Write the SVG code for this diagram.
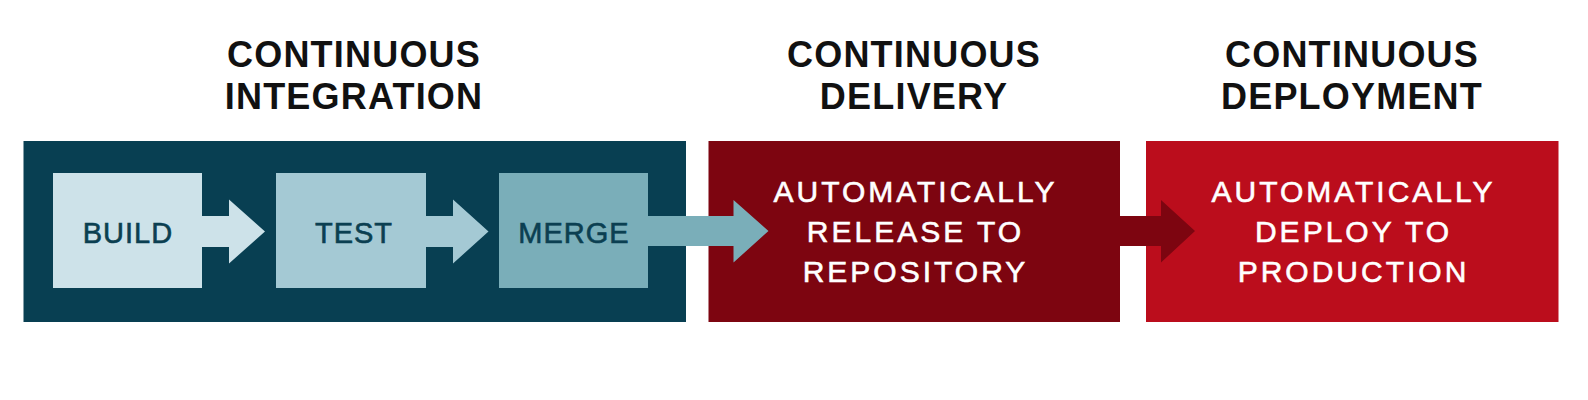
<svg xmlns="http://www.w3.org/2000/svg" width="1588" height="400" viewBox="0 0 1588 400">
<style>
.head{font-family:"Liberation Sans",Arial,sans-serif;font-weight:bold;font-size:36px;letter-spacing:1.2px;fill:#111;text-anchor:middle}
.inner{font-family:"Liberation Sans",Arial,sans-serif;font-size:29px;letter-spacing:1px;fill:#0b3f51;stroke:#0b3f51;stroke-width:0.6px;text-anchor:middle}
.wt{font-family:"Liberation Sans",Arial,sans-serif;font-size:30px;letter-spacing:3px;fill:#fff;stroke:#fff;stroke-width:0.6px;text-anchor:middle}
</style>
<rect width="1588" height="400" fill="#fff"/>
<g id="ci">
<rect x="23.5" y="141" width="662.5" height="181" fill="#083f52"/>
<text class="head" x="354" y="66.5">CONTINUOUS</text>
<text class="head" x="354" y="109.3">INTEGRATION</text>
</g>
<g id="cd">
<rect x="708.5" y="141" width="411.5" height="181" fill="#7d0510"/>
<text class="head" x="914" y="66.5">CONTINUOUS</text>
<text class="head" x="914" y="109.3">DELIVERY</text>
<text class="wt" x="915.5" y="201.7">AUTOMATICALLY</text>
<text class="wt" x="915.5" y="241.7">RELEASE TO</text>
<text class="wt" x="915.5" y="281.7">REPOSITORY</text>
</g>
<g id="cdep">
<rect x="1146" y="141" width="412.5" height="181" fill="#bb0d1c"/>
<text class="head" x="1352" y="66.5">CONTINUOUS</text>
<text class="head" x="1352" y="109.3">DEPLOYMENT</text>
<text class="wt" x="1353.5" y="201.7">AUTOMATICALLY</text>
<text class="wt" x="1353.5" y="241.7">DEPLOY TO</text>
<text class="wt" x="1353.5" y="281.7">PRODUCTION</text>
</g>
<g id="connectors">
<polygon points="200,216 229,216 229,199.5 265,231.5 229,263.5 229,247 200,247" fill="#cde2e9"/>
<polygon points="424,216 453,216 453,199.5 488.5,231.5 453,263.5 453,247 424,247" fill="#a4c9d4"/>
<polygon points="646,216 733.5,216 733.5,200 768.5,231 733.5,262.5 733.5,246 646,246" fill="#7aaeb9"/>
<polygon points="1118,216 1161,216 1161,200 1195,231 1161,262.5 1161,246 1118,246" fill="#7d0510"/>
</g>
<g id="build">
<rect x="53" y="173" width="149" height="115" fill="#cde2e9"/>
<text class="inner" x="128" y="243.3">BUILD</text>
</g>
<g id="test">
<rect x="276" y="173" width="150" height="115" fill="#a4c9d4"/>
<text class="inner" x="354" y="243.3">TEST</text>
</g>
<g id="merge">
<rect x="499" y="173" width="149" height="115" fill="#7aaeb9"/>
<text class="inner" x="574" y="243.3">MERGE</text>
</g>
</svg>
